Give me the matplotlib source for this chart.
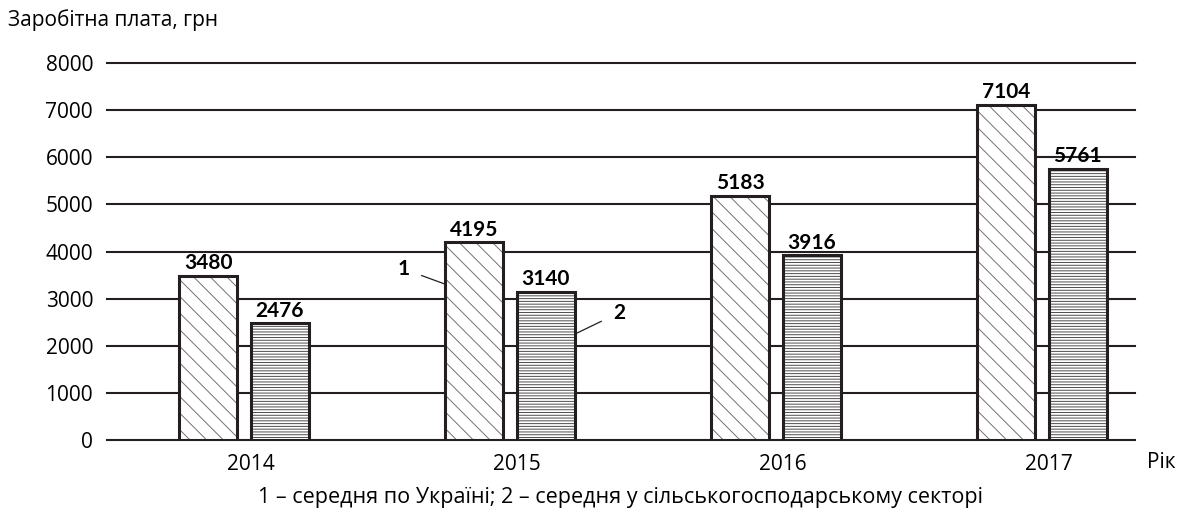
import matplotlib.pyplot as plt
import matplotlib.transforms as mtransforms
import numpy as np

plt.rcParams['font.family'] = ['Open Sans', 'DejaVu Sans']
plt.rcParams['hatch.linewidth'] = 0.7

years = ['2014', '2015', '2016', '2017']
ukraine = [3480, 4195, 5183, 7104]
agro = [2476, 3140, 3916, 5761]
yticks = [0, 1000, 2000, 3000, 4000, 5000, 6000, 7000, 8000]

fig = plt.figure(figsize=(11.9, 5.13), dpi=100)
ax = fig.add_axes([107 / 1190, 1 - 440 / 513, (1135 - 107) / 1190, (440 - 63) / 513])

x = np.arange(len(years))
w = 0.22
off = 0.135

for y in yticks:
    ax.axhline(y, color='#231f20', lw=1.5, zorder=1, clip_on=False)

b1 = ax.bar(x - off, ukraine, w, facecolor='white', edgecolor='#231f20',
            linewidth=2.2, hatch='\\\\', zorder=3)
b2 = ax.bar(x + off, agro, w, facecolor='white', edgecolor='#231f20',
            linewidth=2.2, hatch='------', zorder=3)
for b in b1:
    b._hatch_color = (0.45, 0.45, 0.45, 1)
for b in b2:
    b._hatch_color = (0.3, 0.3, 0.3, 1)

bold = dict(fontsize=15, fontweight='bold', family=['Lato', 'DejaVu Sans'])

for xi, v in zip(x - off, ukraine):
    ax.annotate(str(v), (xi, v), xytext=(0, 2), textcoords='offset points',
                ha='center', va='bottom', **bold)
for xi, v in zip(x + off, agro):
    ax.annotate(str(v), (xi, v), xytext=(0, 2), textcoords='offset points',
                ha='center', va='bottom', **bold)

ax.set_xlim(-0.515, 3.35)
ax.set_ylim(0, 8000)
ax.set_xticks(x)
ax.set_xticklabels(years)
ax.set_yticks(yticks)
ax.tick_params(length=0, labelsize=15, pad=10)
shift = mtransforms.ScaledTranslation(0.07, 0, fig.dpi_scale_trans)
for lab in ax.get_xticklabels():
    lab.set_transform(lab.get_transform() + shift)
for s in ax.spines.values():
    s.set_visible(False)

# callouts 1 and 2
ax.annotate('1', xy=(1 - off - w / 2, 3310), xytext=(0.6, 3630),
            ha='center', va='center',
            arrowprops=dict(arrowstyle='-', color='#231f20', lw=0.9,
                            shrinkA=7, shrinkB=0), **bold)
ax.annotate('2', xy=(1 + off + w / 2, 2250), xytext=(1.41, 2700),
            ha='center', va='center',
            arrowprops=dict(arrowstyle='-', color='#231f20', lw=0.9,
                            shrinkA=7, shrinkB=0), **bold)

fig.text(8 / 1190, 1 - 20 / 513, 'Заробітна плата, грн', fontsize=15,
         ha='left', va='center')
fig.text(1147 / 1190, 1 - 463 / 513, 'Рік', fontsize=15, ha='left', va='center')
fig.text(621 / 1190, 1 - 497 / 513,
         '1 – середня по Україні; 2 – середня у сільськогосподарському секторі',
         fontsize=15.5, ha='center', va='center')

fig.savefig('out.png', dpi=100)
